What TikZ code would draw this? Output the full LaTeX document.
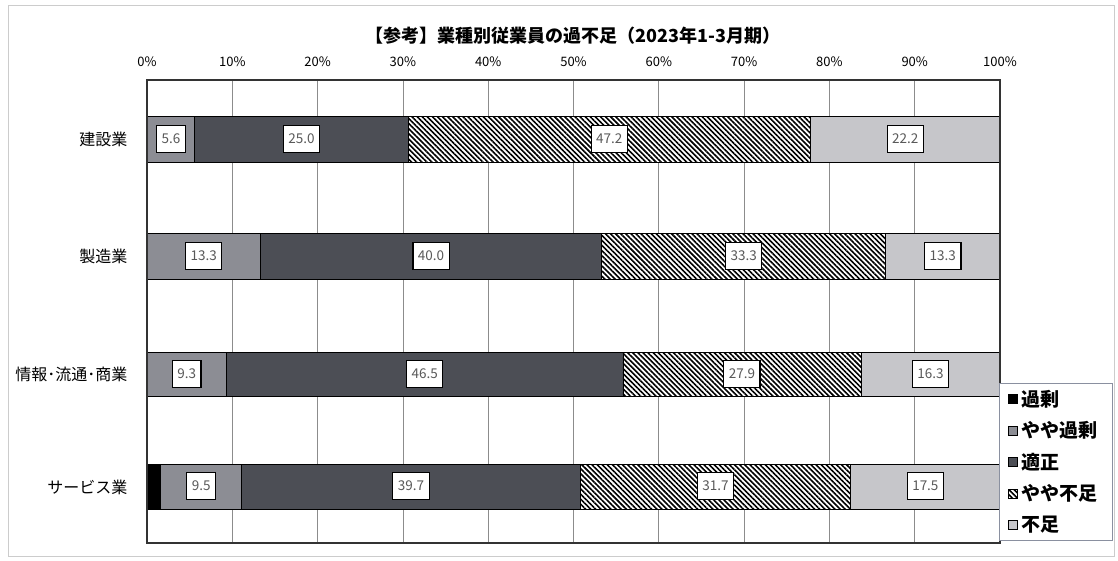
\documentclass[tikz,border=0pt]{standalone}
\usepackage{fontspec}
\setmainfont{Noto Sans CJK JP}
\usepackage{xcolor}
\usepackage{tikz}
\usetikzlibrary{positioning,patterns.meta}

\definecolor{midgray}{HTML}{8C8D94}
\definecolor{darkgray}{HTML}{4C4E55}
\definecolor{lightgray}{HTML}{C6C6CA}
\definecolor{framegray}{HTML}{8A90A0}

\tikzset{
	seg/.style={draw=black, line width=0.9pt},
	kajo/.style={seg, fill=black},
	yayakajo/.style={seg, fill=midgray},
	tekisei/.style={seg, fill=darkgray},
	yayabusoku/.style={seg, preaction={fill=white}, pattern={Lines[angle=-45,distance=3.6pt,line width=1.6pt]}},
	busoku/.style={seg, fill=lightgray},
	val/.style={draw=black, line width=1.2pt, fill=white, text=black!65,
		font=\fontsize{13.5}{13.5}\selectfont, inner xsep=5pt, inner ysep=0pt, minimum height=27pt},
	tick/.style={font=\fontsize{13}{13}\selectfont},
	cat/.style={anchor=east, font=\fontsize{16}{16}\selectfont},
	grid/.style={draw=black!45, line width=0.8pt},
	mk/.style={line width=0.6pt, minimum size=9pt, inner sep=0pt},
	leg/.style={inner sep=0pt, font=\fontsize{19}{19}\selectfont\bfseries}
}

\begin{document}
\begin{tikzpicture}[x=1pt, y=-1pt]
	\useasboundingbox (0,0) rectangle (1118,560);
	\draw[black!20, line width=0.8pt] (8,5) rectangle (1114,556);

	\coordinate (tl) at (147,80);
	\coordinate (br) at (1000,543);

	\node[font=\fontsize{18}{18}\selectfont\bfseries] (title) at (573,36)
		{【参考】業種別従業員の過不足（2023年1-3月期）};

	\begin{scope}[shift={(147,0)}, x=8.53pt]
		\foreach \p in {10,20,...,90}
			\draw[grid] (\p,80) -- (\p,543);
		\foreach \p in {0,10,...,100}
			\node[tick] (t\p) at (\p,62) {\p\%};

		% 建設業
		\draw[yayakajo]   (0,116)    rectangle (5.6,162);
		\draw[tekisei]    (5.6,116)  rectangle (30.6,162);
		\draw[yayabusoku] (30.6,116) rectangle (77.8,162);
		\draw[busoku]     (77.8,116) rectangle (100,162);
		\node[val] (v11) at (2.8,139)  {5.6};
		\node[val] (v12) at (18.1,139) {25.0};
		\node[val] (v13) at (54.2,139) {47.2};
		\node[val] (v14) at (88.9,139) {22.2};

		% 製造業
		\draw[yayakajo]   (0,233)    rectangle (13.3,279);
		\draw[tekisei]    (13.3,233) rectangle (53.3,279);
		\draw[yayabusoku] (53.3,233) rectangle (86.6,279);
		\draw[busoku]     (86.6,233) rectangle (100,279);
		\node[val] (v21) at (6.65,256)  {13.3};
		\node[val] (v22) at (33.3,256)  {40.0};
		\node[val] (v23) at (69.95,256) {33.3};
		\node[val] (v24) at (93.3,256)  {13.3};

		% 情報・流通・商業
		\draw[yayakajo]   (0,352)    rectangle (9.3,396);
		\draw[tekisei]    (9.3,352)  rectangle (55.8,396);
		\draw[yayabusoku] (55.8,352) rectangle (83.7,396);
		\draw[busoku]     (83.7,352) rectangle (100,396);
		\node[val] (v31) at (4.65,374)  {9.3};
		\node[val] (v32) at (32.55,374) {46.5};
		\node[val] (v33) at (69.75,374) {27.9};
		\node[val] (v34) at (91.85,374) {16.3};

		% サービス業
		\draw[kajo]       (0,464)    rectangle (1.6,509);
		\draw[yayakajo]   (1.6,464)  rectangle (11.1,509);
		\draw[tekisei]    (11.1,464) rectangle (50.8,509);
		\draw[yayabusoku] (50.8,464) rectangle (82.5,509);
		\draw[busoku]     (82.5,464) rectangle (100,509);
		\node[val] (v41) at (6.35,486)  {9.5};
		\node[val] (v42) at (30.95,486) {39.7};
		\node[val] (v43) at (66.65,486) {31.7};
		\node[val] (v44) at (91.25,486) {17.5};
	\end{scope}

	\draw[black!80, line width=1.2pt] (tl) rectangle (br);

	\node[cat] (c1) at (131,139) {建設業};
	\node[cat] (c2) at (131,256) {製造業};
	\node[cat] (c3) at (131,374) {情報･流通･商業};
	\node[cat] (c4) at (131,487) {サービス業};

	% legend
	\draw[framegray, fill=white, line width=0.8pt] (999,383) rectangle (1112,540);
	\node[mk, kajo]       (m1) at (1013,399)   {};
	\node[mk, yayakajo]   (m2) at (1013,430.5) {};
	\node[mk, tekisei]    (m3) at (1013,462)   {};
	\node[mk, yayabusoku] (m4) at (1013,493.5) {};
	\node[mk, busoku]     (m5) at (1013,525)   {};
	\node[leg, right=3pt of m1] (l1) {過剰};
	\node[leg, right=3pt of m2] (l2) {やや過剰};
	\node[leg, right=3pt of m3] (l3) {適正};
	\node[leg, right=3pt of m4] (l4) {やや不足};
	\node[leg, right=3pt of m5] (l5) {不足};
\end{tikzpicture}
\end{document}
